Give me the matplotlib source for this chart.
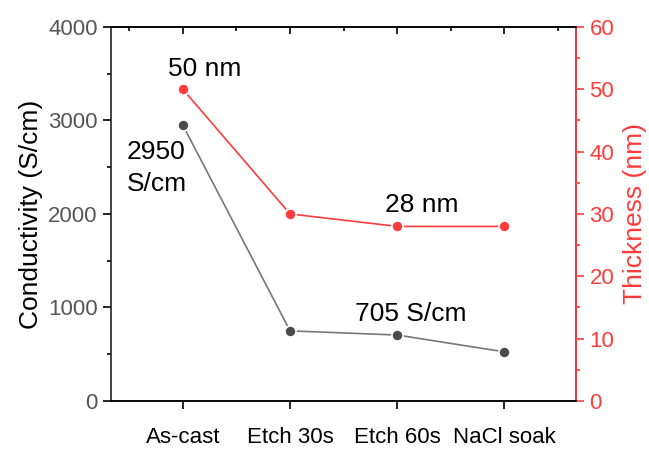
import numpy as np
import matplotlib.pyplot as plt
from matplotlib.ticker import MultipleLocator

plt.rcParams['font.family'] = ['Liberation Sans', 'DejaVu Sans']

categories = ['As-cast', 'Etch 30s', 'Etch 60s', 'NaCl soak']
conductivity = [2950, 750, 705, 525]
thickness = [50, 30, 28, 28]

grey = '#4a4a4a'
red = '#ff3b3b'
x = np.arange(1, len(categories) + 1)

fig = plt.figure(figsize=(6.49, 4.49), dpi=100)
ax = fig.add_axes([0.171, 0.107, 0.717, 0.833])
ax2 = ax.twinx()

# 电导率
ax.plot(x, conductivity, color='#777777', lw=1.2, zorder=2)
ax.plot(x, conductivity, 'o', color=grey, ms=8, mec='white', mew=1.2, zorder=3)
# 厚度
ax2.plot(x, thickness, color=red, lw=1.2, zorder=2)
ax2.plot(x, thickness, 'o', color=red, ms=8, mec='white', mew=1.2, zorder=3)

ax.set_xlim(0.33, 4.67)
ax.set_ylim(0, 4000)
ax2.set_ylim(0, 60)

ax.set_xticks(x)
ax.set_xticklabels(categories, fontsize=16)
ax.xaxis.set_minor_locator(MultipleLocator(0.5))
ax.yaxis.set_major_locator(MultipleLocator(1000))
ax.yaxis.set_minor_locator(MultipleLocator(500))
ax2.yaxis.set_major_locator(MultipleLocator(10))
ax2.yaxis.set_minor_locator(MultipleLocator(5))

ax.tick_params(axis='x', which='major', direction='out', length=6, width=1.2, pad=13,
               top=True, labeltop=False)
ax.tick_params(axis='x', which='minor', direction='in', length=3, width=1.2,
               bottom=False, top=True)
ax.tick_params(axis='y', which='major', direction='out', length=6, width=1.2,
               labelsize=16, labelcolor='#555555')
ax.tick_params(axis='y', which='minor', direction='out', length=3, width=1.2)
# 上边的主刻度朝内
for t in ax.xaxis.get_major_ticks():
    t.tick2line.set_marker(3)
    t.tick2line.set_markersize(5)

ax2.tick_params(axis='y', which='major', direction='out', length=6, width=1.2,
                colors=red, labelsize=16)
ax2.tick_params(axis='y', which='minor', direction='out', length=3, width=1.2, colors=red)

for s in ax.spines.values():
    s.set_linewidth(1.2)
    s.set_color('#222222')
for s in ax2.spines.values():
    s.set_linewidth(1.2)
ax2.spines['right'].set_color(red)
ax2.spines['left'].set_visible(False)

ax.set_ylabel('Conductivity (S/cm)', fontsize=19)
ax2.set_ylabel('Thickness (nm)', fontsize=19, color=red, labelpad=6)

ax2.annotate('50 nm', (x[0], thickness[0]), xytext=(-15, 13), textcoords='offset pixels',
             ha='left', va='baseline', fontsize=19)
ax2.annotate('28 nm', (x[2], thickness[2]), xytext=(24, 14), textcoords='offset pixels',
             ha='center', va='baseline', fontsize=19)
ax.annotate('2950\nS/cm', (x[0], conductivity[0]), xytext=(-56, -15), textcoords='offset pixels',
            ha='left', va='top', fontsize=19, linespacing=1.4)
ax.annotate('705 S/cm', (x[2], conductivity[2]), xytext=(13, 14), textcoords='offset pixels',
            ha='center', va='baseline', fontsize=19)

plt.savefig('out.png', dpi=100)
